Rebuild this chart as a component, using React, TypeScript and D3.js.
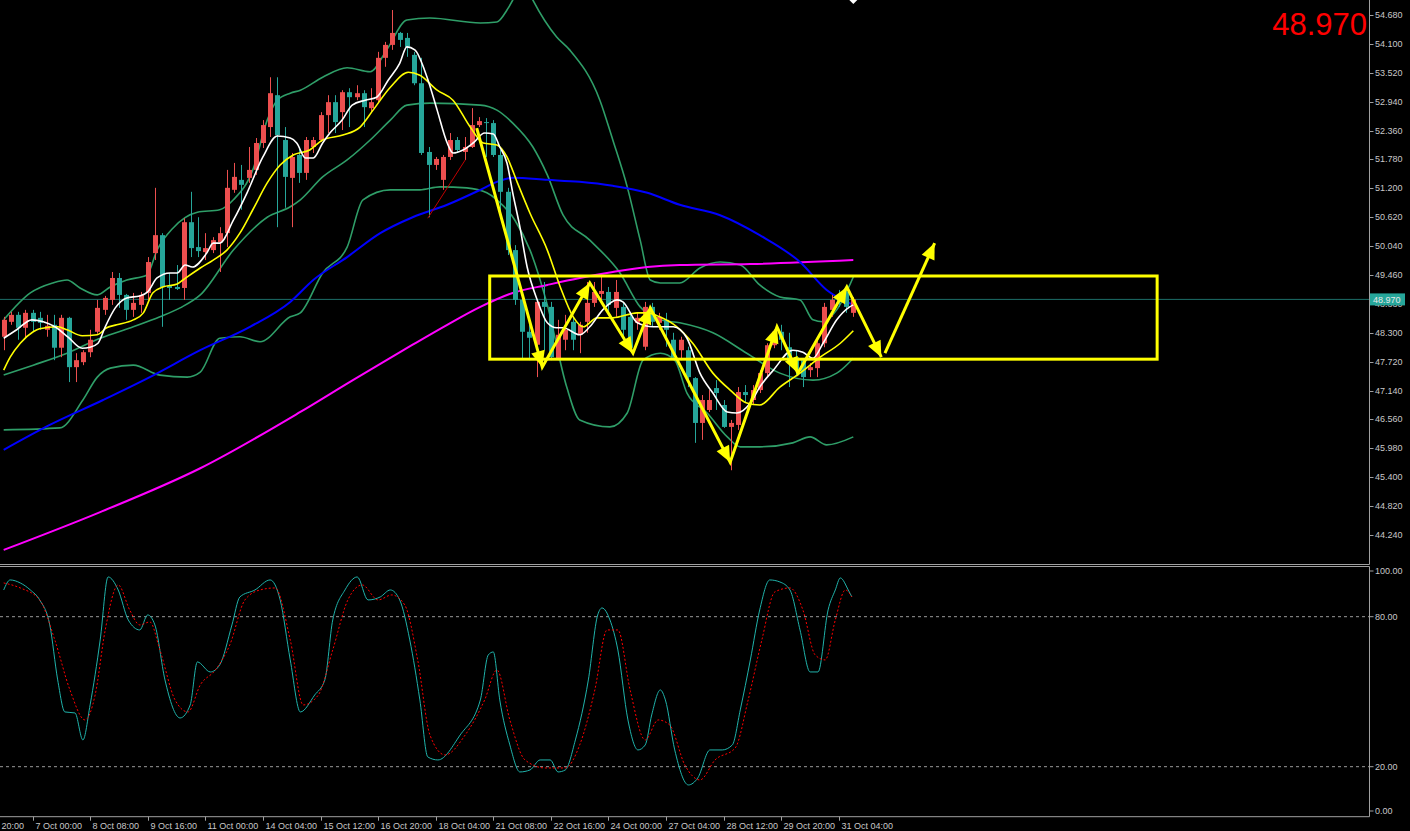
import React from "react";
import * as d3 from "d3";

const W = 1410;
const H = 831;

// ---- candles (H4) ----
const opens = [48.22,48.52,48.66,48.40,48.70,48.60,48.36,48.46,48.00,48.60,47.61,47.71,47.91,48.32,48.76,48.96,49.40,49.06,48.76,48.86,49.10,49.90,50.26,49.24,49.22,49.20,50.52,50.02,49.92,49.96,50.12,50.30,51.17,51.37,51.41,51.57,52.11,52.43,53.07,52.17,51.41,51.87,51.51,52.03,52.17,52.67,52.93,52.73,53.13,53.03,53.11,52.81,52.97,53.82,54.08,54.32,54.22,53.88,53.31,51.93,51.67,51.37,51.83,52.17,51.93,52.03,52.47,52.53,52.51,51.87,51.13,49.96,48.96,48.32,48.06,48.92,48.82,47.79,48.16,48.52,48.26,48.52,48.90,49.08,49.12,48.80,48.82,48.62,48.50,48.02,48.82,48.50,48.56,48.16,47.95,47.95,47.39,46.49,46.75,47.19,46.85,46.41,46.45,47.11,46.95,47.15,47.49,48.05,48.32,48.01,47.81,47.75,47.55,47.59,48.09,48.76,49.06,49.12,48.70];
const highs = [48.62,48.72,48.72,48.76,48.76,48.72,48.66,48.66,48.66,48.62,47.89,47.95,48.36,48.96,49.04,49.52,49.50,49.08,49.10,49.12,49.82,51.21,50.30,49.50,49.66,50.60,51.13,50.62,50.30,50.22,50.42,51.57,51.71,51.67,52.03,52.21,52.57,53.43,53.43,52.43,51.91,52.03,52.23,52.23,52.73,53.07,53.07,53.17,53.21,53.27,53.17,53.21,53.94,54.14,54.78,54.34,54.32,53.94,53.82,52.03,51.83,51.87,52.31,52.23,52.23,52.81,52.63,52.61,52.57,51.97,51.21,50.06,49.00,48.46,48.96,49.32,48.92,48.56,48.66,48.60,48.52,49.32,49.32,49.42,49.22,49.36,48.90,48.70,48.70,48.92,48.90,48.70,48.70,48.30,48.22,48.02,47.41,47.05,47.15,47.35,46.95,46.55,47.21,47.25,47.25,47.55,48.09,48.36,48.46,48.30,47.95,47.79,47.69,48.22,48.90,49.06,49.16,49.26,49.02];
const lows = [47.95,48.46,48.16,48.20,48.32,48.36,48.22,47.75,47.81,47.31,47.31,47.65,47.81,48.28,48.66,48.86,48.80,48.56,48.62,48.70,48.96,49.76,48.42,48.96,49.16,48.96,49.82,49.82,49.76,49.90,49.52,50.02,51.11,50.77,51.31,51.47,52.01,52.23,50.42,50.81,50.42,51.31,51.37,51.91,52.13,52.31,52.31,52.37,52.43,52.97,52.43,52.71,52.91,53.64,53.98,54.04,53.84,53.27,51.87,50.62,51.57,51.17,51.77,51.91,51.77,52.01,52.43,51.83,51.83,50.62,49.86,48.86,47.79,47.75,47.41,47.95,47.75,47.75,47.95,47.95,47.89,48.30,48.82,48.96,48.70,48.62,48.16,47.95,48.36,47.95,48.42,48.36,48.02,47.75,47.75,47.21,46.09,46.15,46.71,46.75,46.39,45.54,46.35,46.91,46.85,47.09,47.41,47.99,47.95,47.21,47.45,47.21,47.41,47.41,48.01,48.62,48.82,48.70,48.62];
const closes = [48.56,48.66,48.40,48.70,48.52,48.50,48.44,48.00,48.60,47.61,47.75,47.91,48.16,48.80,49.00,49.40,49.06,48.76,48.90,49.06,49.72,50.26,49.22,49.20,49.18,50.52,50.00,49.94,50.00,50.16,50.30,51.21,51.43,51.27,51.57,52.11,52.47,53.11,52.27,51.43,51.83,51.51,52.17,52.17,52.67,52.93,52.53,53.13,53.03,53.11,52.83,52.93,53.82,54.08,54.32,54.18,54.04,53.31,51.91,51.67,51.79,51.83,52.17,51.97,52.03,52.47,52.55,52.51,51.87,51.13,49.96,48.96,48.32,48.20,48.92,48.82,47.81,48.26,48.36,48.16,48.46,48.90,49.12,49.14,48.86,49.12,48.36,48.00,48.60,48.82,48.52,48.62,48.36,47.81,48.16,47.41,46.49,46.95,46.95,47.09,46.41,46.49,47.11,47.05,47.15,47.49,48.05,48.32,48.16,47.69,47.55,47.41,47.61,48.09,48.82,48.96,48.92,48.82,48.97];

// ---- indicator lines, read as [bar, value] ----
const whiteMA = [[0,48.19],[1.8,48.36],[3.9,48.56],[5.5,48.52],[7.1,48.42],[8.9,48.22],[10.9,47.99],[12.0,48.01],[13.1,48.09],[14.1,48.42],[15.5,48.80],[17.1,49.00],[18.9,49.04],[20.0,49.12],[21.3,49.40],[23.1,49.50],[24.1,49.50],[25.2,49.66],[26.2,49.62],[28.2,49.90],[29.1,50.10],[30.0,50.10],[31.9,50.56],[33.8,51.11],[36.0,51.83],[38.0,52.25],[39.8,52.21],[40.7,52.11],[41.9,51.81],[43.0,51.81],[44.3,52.11],[45.3,52.31],[47.0,52.57],[48.4,52.87],[50.2,52.97],[51.8,53.03],[53.4,53.37],[55.0,53.71],[56.0,54.04],[57.1,53.98],[58.8,53.43],[60.2,52.77],[61.6,52.11],[62.4,51.91],[63.8,51.97],[65.2,52.11],[66.8,52.31],[68.0,52.29],[68.9,52.03],[69.9,51.71],[70.7,51.11],[71.7,50.42],[72.7,49.62],[74.1,48.96],[75.5,48.50],[76.8,48.40],[77.7,48.40],[80.0,48.26],[81.4,48.42],[83.2,48.76],[85.2,48.96],[86.0,48.92],[88.0,48.50],[90.2,48.42],[93.0,48.42],[94.9,48.19],[96.7,47.49],[98.5,47.09],[100.5,46.71],[101.8,46.69],[103.7,46.89],[105.0,47.21],[106.9,47.55],[109.6,47.95],[111.0,47.91],[112.4,47.79],[113.8,48.09],[115.7,48.56],[117.5,48.82],[118,48.86]];
const yellowMA = [[0,47.55],[0.9,47.81],[2.3,48.09],[4.1,48.32],[5.0,48.38],[7.5,48.42],[8.8,48.36],[10.9,48.24],[13.0,48.26],[14.3,48.40],[15.7,48.46],[18.0,48.56],[19.4,48.70],[20.7,49.10],[22.1,49.22],[24.1,49.28],[24.9,49.36],[27.3,49.60],[29.1,49.76],[31.0,49.96],[32.8,50.30],[34.6,50.77],[36.6,51.31],[38.4,51.67],[40.2,51.87],[42.5,51.97],[44.3,52.17],[47.1,52.27],[49.5,52.43],[51.3,52.77],[53.7,53.23],[56.2,53.53],[57.8,53.47],[60.2,53.17],[62.4,52.97],[64.8,52.43],[66.6,52.11],[68.5,52.07],[69.9,51.83],[71.3,51.33],[73.1,50.70],[75.5,49.96],[77.3,49.22],[79.1,48.62],[80.5,48.42],[82.4,48.60],[84.6,48.60],[88.0,48.70],[89.4,48.70],[91.1,48.62],[93.5,48.42],[95.7,48.09],[98.5,47.49],[100.9,47.15],[103.2,46.89],[105.0,46.85],[107.8,47.21],[110.6,47.49],[113.4,47.81],[116.2,48.09],[118,48.34]];
const blueMA = [[0,45.95],[6.4,46.45],[13.8,46.95],[20.3,47.41],[27.3,47.95],[34.2,48.42],[39.8,48.92],[43.0,49.36],[47.7,49.82],[52.3,50.30],[56.8,50.62],[61.6,50.87],[66.2,51.17],[68.5,51.33],[70.7,51.41],[75.5,51.37],[80.0,51.33],[84.6,51.25],[89.4,51.11],[93.9,50.87],[99.5,50.66],[105.0,50.26],[110.6,49.72],[114.3,49.16],[118,48.86]];
const magentaMA = [[0,43.94],[13.4,44.70],[27.3,45.58],[41.2,46.71],[48.5,47.35],[56.8,48.06],[61.6,48.46],[66.2,48.82],[70.7,49.10],[75.5,49.26],[80.0,49.40],[84.6,49.52],[89.4,49.62],[93.9,49.66],[103.7,49.68],[118,49.76]];
const bbUpper = [[0,48.56],[3.7,49.10],[6.8,49.30],[8.8,49.36],[10.6,49.20],[13.0,49.06],[14.8,49.22],[17.1,49.36],[19.9,49.46],[21.3,49.96],[23.5,50.40],[26.9,50.72],[30.0,50.77],[31.9,50.97],[34.6,51.57],[36.6,52.57],[38.0,52.97],[39.8,53.11],[41.2,53.17],[44.3,53.43],[47.7,53.62],[50.9,53.54],[53.2,53.98],[56.0,54.58],[59.2,54.62],[66.2,54.52],[68.5,54.54],[69.9,54.78],[70.7,54.98],[72.1,55.40],[73.5,54.98],[76.8,54.24],[78.6,53.98],[82.8,52.97],[84.6,52.17],[86.6,51.23],[88.4,50.16],[89.8,49.36],[91.2,49.30],[93.9,49.30],[96.7,49.60],[99.5,49.72],[102.3,49.66],[105.0,49.26],[107.8,49.02],[110.6,48.96],[112.4,48.56],[113.8,48.52],[115.7,48.76],[118,49.42]];
const bbMiddle = [[0,47.45],[4.1,47.65],[8.8,47.89],[13.4,48.19],[18.0,48.42],[21.7,48.62],[24.5,48.80],[27.3,49.06],[31.9,49.96],[36.6,50.62],[39.8,50.83],[41.2,50.97],[44.3,51.43],[47.7,51.77],[50.9,52.17],[53.7,52.57],[56.0,52.87],[59.2,52.91],[66.2,52.87],[68.5,52.77],[70.7,52.51],[73.5,52.03],[75.5,51.47],[77.7,50.66],[81.4,50.16],[85.6,49.50],[88.4,48.82],[91.2,48.56],[93.9,48.50],[98.5,48.30],[103.2,47.89],[107.8,47.49],[112.4,47.35],[115.7,47.49],[118,47.79]];
const bbLower = [[0,46.35],[7.8,46.39],[11.0,46.95],[13.0,47.41],[14.8,47.59],[18.0,47.65],[21.7,47.45],[25.5,47.41],[27.3,47.51],[30.0,48.19],[32.8,48.22],[35.6,48.12],[39.8,48.62],[41.2,48.70],[44.3,49.50],[47.7,50.02],[49.9,50.97],[53.7,51.17],[57.8,51.17],[60.6,51.23],[64.3,51.21],[67.1,51.11],[68.5,50.97],[71.0,50.56],[73.1,49.96],[75.5,48.86],[78.2,47.21],[80.0,46.55],[84.2,46.41],[86.6,46.69],[88.8,47.75],[91.2,47.89],[93.2,47.75],[94.9,47.09],[97.7,46.69],[100.5,46.21],[102.3,46.01],[105.0,46.01],[109.6,46.09],[112.0,46.21],[114.3,46.05],[118,46.21]];

// ---- stochastic ----
const stochMain = [[0,90.7],[0.9,94.7],[2.3,93.5],[3.7,90.7],[5.0,86.7],[6.4,76.7],[7.5,54.7],[8.5,41.9],[9.9,41.5],[11.0,30.7],[12.0,44.7],[13.4,70.7],[14.5,95.9],[15.9,90.7],[17.3,78.7],[18.9,74.7],[20.0,80.7],[21.0,76.7],[22.4,54.7],[24.5,39.5],[25.9,44.7],[26.9,61.9],[28.7,57.9],[30.0,60.7],[31.7,76.7],[32.8,87.9],[34.9,90.7],[37.0,94.7],[38.4,86.7],[39.8,62.7],[41.2,41.9],[43.2,48.7],[44.6,54.7],[45.7,78.7],[47.4,90.7],[49.1,95.9],[50.6,86.7],[52.3,87.9],[53.7,90.7],[55.0,86.7],[56.4,70.7],[57.8,46.7],[58.9,23.9],[60.3,22.7],[63.4,32.7],[66.2,46.7],[67.3,64.7],[68.0,65.9],[68.9,46.7],[70.3,28.7],[71.7,17.9],[73.1,18.7],[74.5,22.7],[75.9,22.7],[77.0,17.9],[78.0,18.7],[79.4,30.7],[81.2,54.7],[82.5,80.7],[83.1,83.5],[84.2,78.7],[85.3,66.7],[86.7,38.7],[88.1,26.7],[89.1,28.7],[90.0,40.7],[91.2,50.7],[91.9,46.7],[93.2,26.7],[95.1,12.7],[96.4,15.5],[98.1,26.7],[99.8,26.7],[101.2,28.7],[102.3,42.7],[103.7,62.7],[105.0,82.7],[106.4,94.7],[107.8,93.9],[109.2,90.7],[110.6,74.7],[112.0,57.9],[113.1,57.9],[114.5,82.7],[115.5,90.7],[116.2,95.5],[117.3,90.7],[117.8,87.9]];
const stochSignal = [[0,93.5],[2.3,91.5],[5.0,86.7],[7.1,70.7],[9.2,50.7],[11.3,38.7],[12.7,48.7],[14.1,74.7],[15.9,92.7],[17.5,82.7],[18.9,76.7],[20.3,77.9],[21.7,66.7],[23.8,46.7],[25.6,41.9],[27.3,52.7],[29.4,58.7],[31.4,68.7],[33.5,86.7],[35.6,90.7],[37.7,91.5],[39.8,70.7],[41.6,44.7],[43.7,48.7],[45.7,66.7],[47.8,86.7],[49.8,92.7],[52.0,86.7],[53.9,88.7],[55.7,84.7],[57.5,62.7],[59.2,32.7],[61.3,24.7],[64.1,32.7],[66.8,46.7],[68.5,58.7],[70.3,38.7],[72.4,22.7],[75.2,19.5],[78.0,19.5],[80.0,28.7],[82.1,50.7],[83.8,74.7],[85.3,74.7],[87.0,50.7],[89.1,30.7],[90.9,38.7],[92.5,36.7],[94.6,20.7],[96.7,14.7],[98.8,22.7],[101.6,27.5],[103.4,46.7],[105.3,70.7],[107.1,89.9],[109.2,91.5],[111.0,82.7],[112.7,64.7],[114.1,62.7],[115.5,78.7],[116.9,90.7],[117.8,87.9]];

// ---- annotations ----
const zigzag = [[65.7,52.41],[74.8,47.61],[81.4,49.30],[87.4,47.89],[89.8,48.80],[100.9,45.70],[107.4,48.42],[110.3,47.49],[117.1,49.22],[121.9,47.81]];
const breakoutArrow = [[122.4,47.89],[129.3,50.10]];
const rangeBox = [[67.5,49.44],[160.2,47.77]];
const redTrend = [[58.9,50.60],[64.1,51.77]];

const lastPrice = 48.97;
const priceTicks = [54.68,54.10,53.52,52.94,52.36,51.78,51.20,50.62,50.04,49.46,48.88,48.30,47.72,47.14,46.56,45.98,45.40,44.82,44.24];
const stochTicks = [100, 80, 20, 0];
const stochLevels = [80, 20];
const timeLabels = ["5 Oct 20:00","7 Oct 00:00","8 Oct 08:00","9 Oct 16:00","11 Oct 00:00","14 Oct 04:00","15 Oct 12:00","16 Oct 20:00","18 Oct 04:00","21 Oct 08:00","22 Oct 16:00","24 Oct 00:00","27 Oct 04:00","28 Oct 12:00","29 Oct 20:00","31 Oct 04:00"];
const timeLabelBars = [-4,4,12,20,28,36,44,52,60,68,76,84,92,100,108,116];

const FONT = "'Liberation Sans', Arial, sans-serif";
const AXIS_X = 1369.5;
const MAIN_BOTTOM = 564.5;
const STOCH_TOP = 566.5;
const BOTTOM = 816.7;

export default function App() {
  const x = d3.scaleLinear().domain([0, 118]).range([3.7, 853.3]);
  const y = d3.scaleLinear().domain([44.24, 54.68]).range([535, 15]);
  const ys = d3.scaleLinear().domain([0, 100]).range([BOTTOM, 566.7]);

  const pLine = d3.line<number[]>().x(d => x(d[0])).y(d => y(d[1])).curve(d3.curveMonotoneX);
  const sLine = d3.line<number[]>().x(d => x(d[0])).y(d => ys(d[1])).curve(d3.curveMonotoneX);
  const straight = d3.line<number[]>().x(d => x(d[0])).y(d => y(d[1]));

  const arrowHead = (a: number[], b: number[], key: string) => {
    const x1 = x(a[0]), y1 = y(a[1]), x2 = x(b[0]), y2 = y(b[1]);
    const ang = Math.atan2(y2 - y1, x2 - x1);
    const L = 16, hw = 7;
    const bx = x2 - L * Math.cos(ang), by = y2 - L * Math.sin(ang);
    const px = -Math.sin(ang) * hw, py = Math.cos(ang) * hw;
    return <polygon key={key} points={`${x2},${y2} ${bx + px},${by + py} ${bx - px},${by - py}`} fill="#ffff00" />;
  };

  const bull = "#ec4f4f";
  const bear = "#26a69a";
  const grid = "#a0a0a0";
  const lbl = "#c8c8c8";

  const lastY = y(lastPrice);

  return (
    <svg width={W} height={H} style={{ position: "fixed", left: 0, top: 0, background: "#000" }} xmlns="http://www.w3.org/2000/svg">
      <defs>
        <clipPath id="mainClip"><rect x={0} y={0} width={AXIS_X} height={MAIN_BOTTOM - 1} /></clipPath>
        <clipPath id="stochClip"><rect x={0} y={STOCH_TOP + 1} width={AXIS_X} height={BOTTOM - STOCH_TOP - 1} /></clipPath>
      </defs>
      <rect x={0} y={0} width={W} height={H} fill="#000" />

      <g clipPath="url(#mainClip)">
        {/* current price line */}
        <line x1={0} x2={AXIS_X} y1={lastY} y2={lastY} stroke="#1d6e68" strokeWidth={1} />

        {/* Bollinger bands */}
        {[bbUpper, bbMiddle, bbLower].map((s, k) => (
          <path key={"bb" + k} d={pLine(s) || ""} fill="none" stroke="#2f9e68" strokeWidth={1.6} />
        ))}
        <path d={pLine(magentaMA) || ""} fill="none" stroke="#ff00ff" strokeWidth={2} />
        <path d={pLine(blueMA) || ""} fill="none" stroke="#0000ff" strokeWidth={2} />

        {/* candles */}
        {closes.map((c, i) => {
          const o = opens[i];
          const up = c >= o;
          const col = up ? bull : bear;
          const cx = Math.round(x(i)) + 0.5;
          const top = y(Math.max(o, c));
          const h = Math.max(1, Math.abs(y(o) - y(c)));
          return (
            <g key={"c" + i}>
              <line x1={cx} x2={cx} y1={y(highs[i])} y2={y(lows[i])} stroke={col} strokeWidth={1} />
              <rect x={cx - 2.5} y={top} width={5} height={h} fill={col} />
            </g>
          );
        })}

        <path d={pLine(yellowMA) || ""} fill="none" stroke="#ffff00" strokeWidth={1.6} />
        <path d={pLine(whiteMA) || ""} fill="none" stroke="#ffffff" strokeWidth={1.6} />

        {/* red trend line */}
        <path d={straight(redTrend) || ""} fill="none" stroke="#c00000" strokeWidth={1} />

        {/* range rectangle */}
        <rect x={x(rangeBox[0][0])} y={y(rangeBox[0][1])} width={x(rangeBox[1][0]) - x(rangeBox[0][0])} height={y(rangeBox[1][1]) - y(rangeBox[0][1])} fill="none" stroke="#ffff00" strokeWidth={3} />

        {/* zigzag arrows */}
        <path d={straight(zigzag) || ""} fill="none" stroke="#ffff00" strokeWidth={3} strokeLinejoin="miter" />
        {zigzag.slice(1).map((p, k) => arrowHead(zigzag[k], p, "ah" + k))}
        <path d={straight(breakoutArrow) || ""} fill="none" stroke="#ffff00" strokeWidth={3} />
        {arrowHead(breakoutArrow[0], breakoutArrow[1], "ahb")}

        {/* marker at top */}
        <polygon points={`${x(118) - 5},-1 ${x(118)},-6 ${x(118) + 5},-1 ${x(118)},4`} fill="#ffffff" />
      </g>

      {/* stochastic */}
      <g clipPath="url(#stochClip)">
        {stochLevels.map(v => (
          <line key={"lv" + v} x1={0} x2={AXIS_X} y1={ys(v)} y2={ys(v)} stroke="#9a9a9a" strokeWidth={1} strokeDasharray="3,3" />
        ))}
        <path d={sLine(stochMain) || ""} fill="none" stroke="#20b2aa" strokeWidth={1} />
        <path d={sLine(stochSignal) || ""} fill="none" stroke="#ff0000" strokeWidth={1} strokeDasharray="2,2" />
      </g>

      {/* frames */}
      <line x1={0} x2={AXIS_X} y1={MAIN_BOTTOM} y2={MAIN_BOTTOM} stroke={grid} strokeWidth={1} />
      <line x1={0} x2={AXIS_X} y1={STOCH_TOP} y2={STOCH_TOP} stroke={grid} strokeWidth={1} />
      <line x1={0} x2={AXIS_X} y1={BOTTOM} y2={BOTTOM} stroke={grid} strokeWidth={1} />
      <line x1={AXIS_X} x2={AXIS_X} y1={0} y2={MAIN_BOTTOM} stroke={grid} strokeWidth={1} />
      <line x1={AXIS_X} x2={AXIS_X} y1={STOCH_TOP} y2={BOTTOM} stroke={grid} strokeWidth={1} />

      {/* price axis */}
      {priceTicks.map(p => (
        <g key={"pt" + p}>
          <line x1={AXIS_X} x2={AXIS_X + 4} y1={Math.round(y(p)) + 0.5} y2={Math.round(y(p)) + 0.5} stroke={grid} />
          <text x={1375} y={y(p) + 3} fontSize={9} fill={lbl} fontFamily={FONT}>{p.toFixed(3)}</text>
        </g>
      ))}
      <rect x={1370} y={lastY - 6} width={35} height={12} fill="#26a69a" />
      <text x={1373} y={lastY + 3.5} fontSize={9} fill="#e8e8e8" fontFamily={FONT}>{lastPrice.toFixed(3)}</text>

      {/* stochastic axis */}
      {stochTicks.map(v => {
        const ty = Math.min(Math.max(ys(v), 571), 811);
        return (
          <g key={"st" + v}>
            <line x1={AXIS_X} x2={AXIS_X + 4} y1={ty} y2={ty} stroke={grid} />
            <text x={1375} y={ty + 3} fontSize={9} fill={lbl} fontFamily={FONT}>{v.toFixed(2)}</text>
          </g>
        );
      })}

      {/* time axis */}
      {timeLabels.map((t, k) => {
        const tx = Math.round(x(timeLabelBars[k])) + 0.5;
        return (
          <g key={"tl" + k}>
            <line x1={tx} x2={tx} y1={BOTTOM} y2={BOTTOM + 4} stroke={grid} />
            <text x={tx + 2} y={829} fontSize={9} fill={lbl} fontFamily={FONT}>{t}</text>
          </g>
        );
      })}

      {/* big price */}
      <text x={1367} y={35} fontSize={31} fill="#ff0000" textAnchor="end" fontFamily={FONT}>{lastPrice.toFixed(3)}</text>
    </svg>
  );
}
